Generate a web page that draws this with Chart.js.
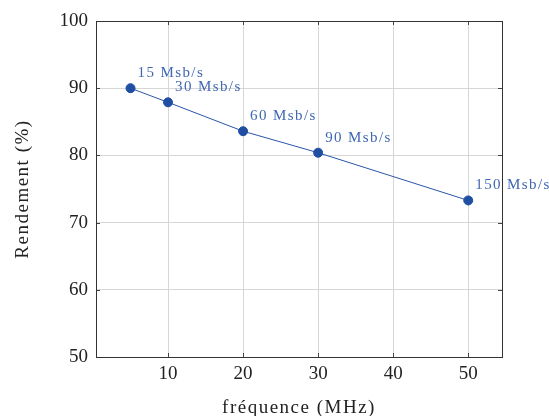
<!DOCTYPE html>
<html>
<head>
<meta charset="utf-8">
<script src="https://cdn.jsdelivr.net/npm/chart.js@4"></script>
<style>
  html, body { margin: 0; padding: 0; background: #fff; }
  #wrap { width: 549px; height: 416px; }
</style>
</head>
<body>
<div id="wrap"><canvas id="c" width="549" height="416"></canvas></div>
<script>
const freqMHz = [5, 10, 20, 30, 50];
const rendement = [90.0, 87.9, 83.6, 80.4, 73.3];
const pointLabels = ['15 Msb/s', '30 Msb/s', '60 Msb/s', '90 Msb/s', '150 Msb/s'];
const xTickValues = [10, 20, 30, 40, 50];
const yTickValues = [50, 60, 70, 80, 90, 100];

const FONT = "'Liberation Serif', 'DejaVu Serif', serif";
Chart.defaults.font.family = FONT;
Chart.defaults.color = '#222';

function withSpacing(ctx, sp, fn) {
  const prev = ctx.letterSpacing;
  ctx.letterSpacing = sp;
  fn();
  ctx.letterSpacing = prev || '0px';
}

const labelPlugin = {
  id: 'pointLabels',
  afterLayout(chart) {
    ['x', 'y'].forEach(id => {
      const s = chart.scales[id];
      if (s._patched) return;
      const orig = s.drawTitle;
      s.drawTitle = function () {
        withSpacing(this.ctx, '1.5px', () => orig.call(this));
      };
      s._patched = true;
    });
  },
  afterDatasetsDraw(chart) {
    const ctx = chart.ctx;
    const meta = chart.getDatasetMeta(0);
    ctx.save();
    ctx.font = '15px ' + FONT;
    ctx.fillStyle = '#3f67b3';
    ctx.textAlign = 'left';
    ctx.textBaseline = 'alphabetic';
    withSpacing(ctx, '1.4px', () => {
      meta.data.forEach((pt, i) => {
        ctx.fillText(pointLabels[i], pt.x + 7, pt.y - 11);
      });
    });
    ctx.restore();
  },
  afterDraw(chart) {
    const ctx = chart.ctx;
    const a = chart.chartArea;
    const xs = chart.scales.x, ys = chart.scales.y;
    ctx.save();
    ctx.strokeStyle = '#444';
    ctx.lineWidth = 1;
    ctx.beginPath();
    xTickValues.forEach(v => {
      const px = Math.round(xs.getPixelForValue(v)) + 0.5;
      ctx.moveTo(px, a.bottom); ctx.lineTo(px, a.bottom - 4);
      ctx.moveTo(px, a.top); ctx.lineTo(px, a.top + 4);
    });
    yTickValues.forEach(v => {
      const py = Math.round(ys.getPixelForValue(v)) + 0.5;
      ctx.moveTo(a.left, py); ctx.lineTo(a.left + 4, py);
      ctx.moveTo(a.right, py); ctx.lineTo(a.right - 4, py);
    });
    ctx.stroke();
    ctx.strokeStyle = '#333';
    ctx.strokeRect(Math.round(a.left) + 0.5, Math.round(a.top) + 0.5,
                   Math.round(a.right - a.left), Math.round(a.bottom - a.top));
    ctx.restore();
  }
};

new Chart(document.getElementById('c'), {
  type: 'line',
  data: {
    datasets: [{
      data: freqMHz.map((f, i) => ({ x: f, y: rendement[i] })),
      borderColor: '#2a55a8',
      backgroundColor: '#1f4ea3',
      pointBackgroundColor: '#1f4ea3',
      pointBorderColor: '#1f4ea3',
      borderWidth: 1,
      pointRadius: 4.5,
      pointHoverRadius: 4.5,
      fill: false,
      tension: 0
    }]
  },
  options: {
    responsive: false,
    animation: false,
    devicePixelRatio: 1,
    layout: { padding: { top: 21, right: 47, left: 0, bottom: 0 } },
    plugins: { legend: { display: false }, tooltip: { enabled: false } },
    scales: {
      x: {
        type: 'linear',
        min: 0.4,
        max: 54.5,
        afterBuildTicks: s => { s.ticks = xTickValues.map(v => ({ value: v })); },
        afterFit: s => { s.height = 59; },
        grid: { color: '#d6d6d6', lineWidth: 1, drawTicks: false },
        border: { display: false },
        ticks: { padding: 6, font: { size: 19 }, color: '#222', maxRotation: 0 },
        title: { display: true, text: 'fréquence (MHz)', font: { size: 19, lineHeight: 0.8 }, color: '#222', padding: { top: 0, bottom: 0 } }
      },
      y: {
        type: 'linear',
        min: 50,
        max: 100,
        afterBuildTicks: s => { s.ticks = yTickValues.map(v => ({ value: v })); },
        afterFit: s => { s.width = 96; },
        grid: { color: '#d6d6d6', lineWidth: 1, drawTicks: false },
        border: { display: false },
        ticks: { padding: 8, font: { size: 19 }, color: '#222' },
        title: { display: true, text: 'Rendement (%)', font: { size: 19, lineHeight: 1 }, color: '#222', padding: { top: 14, bottom: 0 } }
      }
    }
  },
  plugins: [labelPlugin]
});
</script>
</body>
</html>
